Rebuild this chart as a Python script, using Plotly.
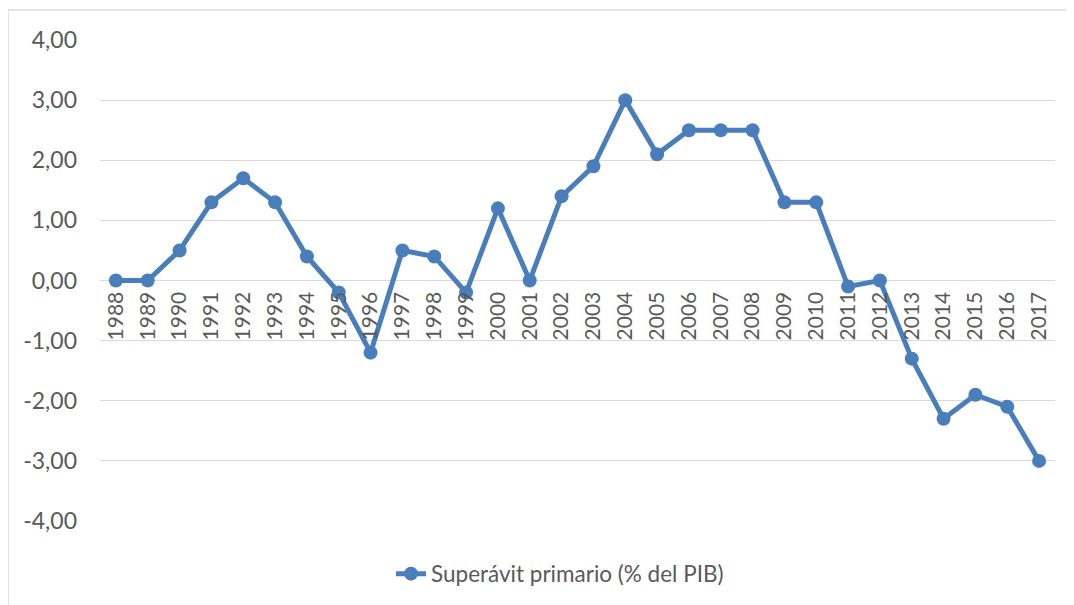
import plotly.graph_objects as go

years = [str(y) for y in range(1988, 2018)]
superavit = [0.0, 0.0, 0.5, 1.3, 1.7, 1.3, 0.4, -0.2, -1.2, 0.5,
             0.4, -0.2, 1.2, 0.0, 1.4, 1.9, 3.0, 2.1, 2.5, 2.5,
             2.5, 1.3, 1.3, -0.1, 0.0, -1.3, -2.3, -1.9, -2.1, -3.0]
y_ticks = [-4, -3, -2, -1, 0, 1, 2, 3, 4]
y_tick_labels = ["-4,00", "-3,00", "-2,00", "-1,00", "0,00",
                 "1,00", "2,00", "3,00", "4,00"]
series_name = "Superávit primario (% del PIB)"

blue = "#4a7ebb"
gray_text = "#595959"
grid = "#d9d9d9"
font_family = "Lato, Carlito, Calibri, sans-serif"

fig = go.Figure()
fig.add_trace(go.Scatter(
    x=years, y=superavit, mode="lines+markers", name=series_name,
    line=dict(color=blue, width=5),
    marker=dict(color=blue, size=14),
))

W, H = 1074, 605
OFF = 8  # default page body margin
ml, mt = 100 - OFF, 40 - OFF
pw, ph = 955, 481
mr = W - ml - pw
mb = H - mt - ph

def px_x(page_px):
    return (page_px - 100) / pw

def px_y(page_py):
    return (521 - page_py) / ph

fig.update_layout(
    width=W, height=H,
    margin=dict(l=ml, r=mr, t=mt, b=mb),
    paper_bgcolor="white", plot_bgcolor="white",
    font=dict(family=font_family, color=gray_text, size=15),
    showlegend=True,
    legend=dict(orientation="h", x=px_x(560), xanchor="center",
                y=px_y(574), yanchor="middle",
                font=dict(size=22.5, color=gray_text)),
    xaxis=dict(type="category", range=[-0.5, len(years) - 0.5],
               tickangle=-90, showgrid=False, zeroline=False, showline=False,
               anchor="free", position=0.5, ticks="",
               ticklabelstandoff=6,
               tickfont=dict(size=21, color=gray_text)),
    yaxis=dict(range=[-4, 4], tickvals=y_ticks, ticktext=y_tick_labels,
               showgrid=True, gridcolor=grid, gridwidth=1,
               zeroline=False, showline=False, ticks="",
               ticklabelstandoff=22,
               tickfont=dict(size=23, color=gray_text)),
    shapes=[dict(type="rect", xref="paper", yref="paper",
                 x0=px_x(8), x1=px_x(1090), y0=px_y(625), y1=px_y(10),
                 line=dict(color=grid, width=1.5), layer="below")],
)

fig.write_html("out.html")
